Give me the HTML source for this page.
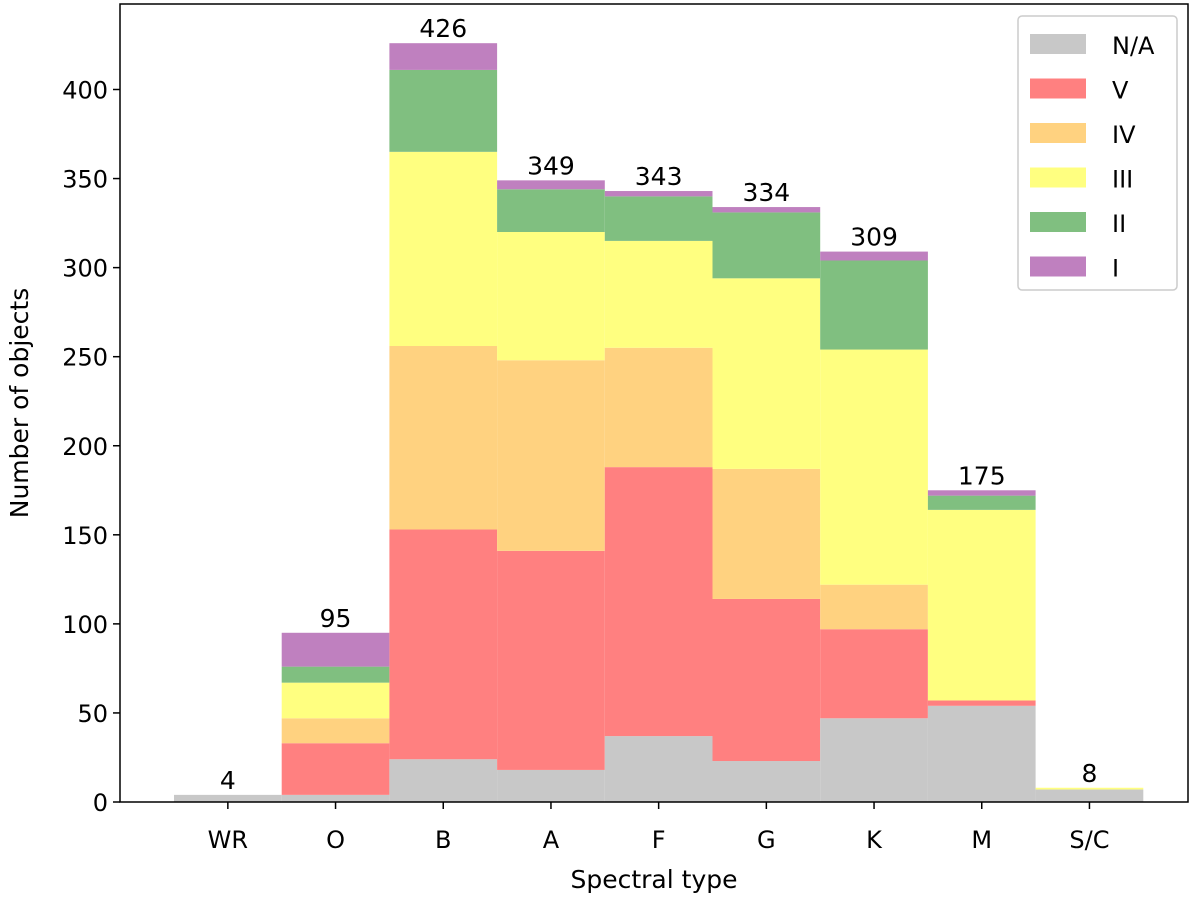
<!DOCTYPE html>
<html><head><meta charset="utf-8"><style>
body{margin:0;background:#fff;font-family:"DejaVu Sans","Liberation Sans",sans-serif}
svg text{font-family:"DejaVu Sans","Liberation Sans",sans-serif}
</style></head><body>
<svg id="c" width="1200" height="900" xmlns="http://www.w3.org/2000/svg"></svg>
<script>
const categories=["WR","O","B","A","F","G","K","M","S/C"];
const seriesNames=["N/A","V","IV","III","II","I"];
const seriesColors=["#c8c8c8","#ff8080","#ffd280","#ffff80","#80bf80","#bf80bf"];
const sNA=[4,4,24,18,37,23,47,54,7];
const sV=[0,29,129,123,151,91,50,3,0];
const sIV=[0,14,103,107,67,73,25,0,0];
const sIII=[0,20,109,72,60,107,132,107,1];
const sII=[0,9,46,24,25,37,50,8,0];
const sI=[0,19,15,5,3,3,5,3,0];
const totals=[4,95,426,349,343,334,309,175,8];
const yTicks=[0,50,100,150,200,250,300,350,400];
const series=[sNA,sV,sIV,sIII,sII,sI];
const L=120,R=1188,T=4,B=802,ymax=448;
const y=v=>B-(v/ymax)*(B-T);
const bw=107.7,x0=174;
const x=i=>x0+i*bw;
const svg=document.getElementById('c');
const NS="http://www.w3.org/2000/svg";
function mk(t,a,txt){const e=document.createElementNS(NS,t);for(const k in a)e.setAttribute(k,a[k]);if(txt!==undefined)e.textContent=txt;svg.appendChild(e);return e;}
categories.forEach((c,i)=>{let base=0;series.forEach((s,j)=>{const v=s[i];if(v>0){const r=mk('rect',{x:x(i),y:y(base+v),width:bw,height:y(base)-y(base+v),fill:seriesColors[j]});

}base+=v;});
const t=mk('text',{x:x(i)+bw/2,y:y(totals[i])-6,'text-anchor':'middle','font-size':25,fill:'#000'},totals[i]);


const tk=mk('line',{x1:x(i)+bw/2,x2:x(i)+bw/2,y1:B,y2:B+7,stroke:'#000','stroke-width':1.5});


const tl=mk('text',{x:x(i)+bw/2,y:B+46,'text-anchor':'middle','font-size':24},c);


});
yTicks.forEach(v=>{const l=mk('line',{x1:L-7,x2:L,y1:y(v),y2:y(v),stroke:'#000','stroke-width':1.5});


const t=mk('text',{x:L-12,y:y(v)+9,'text-anchor':'end','font-size':24},v);

});
const fr=mk('rect',{x:L,y:T,width:R-L,height:B-T,fill:'none',stroke:'#000','stroke-width':1.5});


const xt=mk('text',{x:(L+R)/2,y:B+86,'text-anchor':'middle','font-size':25},'Spectral type');


const yt=mk('text',{x:28,y:(T+B)/2,'text-anchor':'middle','font-size':25,transform:`rotate(-90 28 ${(T+B)/2})`},'Number of objects');


const lg=mk('rect',{x:1018,y:16,width:159,height:274,rx:4,fill:'#fff',stroke:'#ccc','stroke-width':1.5});


seriesNames.forEach((n,j)=>{const yy=34+j*44.5;
const s=mk('rect',{x:1030,y:yy,width:56,height:20,fill:seriesColors[j]});


const t=mk('text',{x:1112,y:yy+20,'font-size':24},n);

});
</script>
</body></html>
